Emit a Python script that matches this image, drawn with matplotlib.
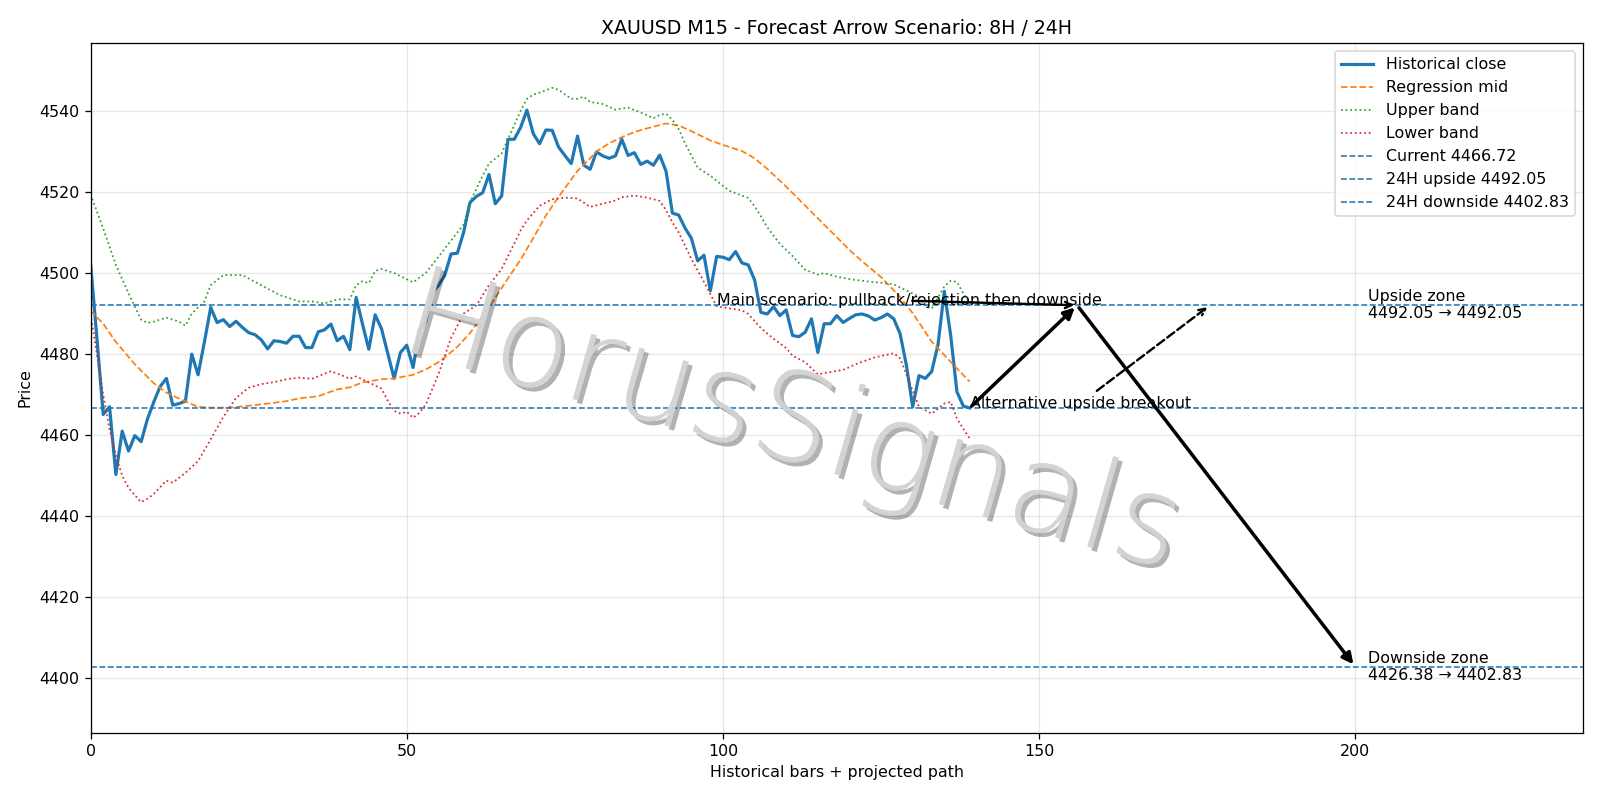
import numpy as np
import matplotlib
matplotlib.use("Agg")
import matplotlib.pyplot as plt
import matplotlib.patheffects as pe
from matplotlib import font_manager as fm

# historical closes, one per M15 bar (index 0..139)
close = [
    4502.4, 4484.0, 4465.1, 4467.0, 4450.3, 4461.0, 4456.1, 4459.9, 4458.4, 4464.0,
    4468.2, 4472.0, 4474.0, 4467.4, 4467.8, 4468.4, 4480.0, 4474.9, 4483.0, 4491.5,
    4487.8, 4488.5, 4486.8, 4488.1, 4486.6, 4485.3, 4484.8, 4483.5, 4481.3, 4483.3,
    4483.1, 4482.7, 4484.4, 4484.4, 4481.6, 4481.6, 4485.5, 4486.0, 4487.4, 4483.3,
    4484.4, 4481.1, 4494.0, 4487.4, 4481.2, 4489.7, 4486.3, 4480.1, 4474.0, 4480.4,
    4482.2, 4476.7, 4485.9, 4488.1, 4495.2, 4496.9, 4499.4, 4504.7, 4504.9, 4510.1,
    4517.4, 4518.9, 4519.8, 4524.3, 4517.1, 4519.0, 4533.0, 4533.0, 4535.9, 4540.2,
    4534.4, 4531.9, 4535.3, 4535.2, 4531.1, 4529.0, 4527.0, 4533.8, 4526.6, 4525.6,
    4529.9, 4528.9, 4528.3, 4528.9, 4533.0, 4529.0, 4529.7, 4526.8, 4527.6, 4526.6,
    4529.1, 4525.1, 4514.8, 4514.3, 4511.1, 4508.6, 4503.0, 4504.4, 4495.6, 4504.1,
    4503.9, 4503.3, 4505.3, 4502.5, 4502.0, 4498.3, 4490.3, 4489.9, 4491.7, 4489.5,
    4490.9, 4484.6, 4484.3, 4485.4, 4488.7, 4480.4, 4487.5, 4487.5, 4489.5, 4487.8,
    4488.8, 4489.7, 4489.9, 4489.4, 4488.4, 4489.0, 4489.9, 4488.7, 4485.1, 4477.3,
    4467.0, 4474.7, 4474.0, 4475.7, 4482.3, 4495.5, 4484.7, 4470.7, 4467.2, 4466.72,
]

# regression mid (bar index, price)
mid_x = [0, 2, 4, 7, 10, 12, 15, 17, 19, 22, 24, 27, 31, 33, 36, 39, 41, 43, 46, 48,
         51, 53, 55, 56, 58, 60, 62, 64, 66, 68, 70, 72, 74, 77, 79, 80, 82, 84, 86, 88,
         90, 91, 93, 95, 98, 100, 103, 105, 107, 110, 112, 115, 117, 120, 122, 125, 128,
         130, 133, 136, 139]
mid_y = [4490.7, 4487.5, 4483.0, 4477.5, 4472.8, 4470.5, 4468.3, 4467.0, 4466.8, 4466.8,
         4467.1, 4467.6, 4468.4, 4469.1, 4469.6, 4471.3, 4471.8, 4473.0, 4473.8, 4474.0,
         4474.9, 4476.2, 4478.0, 4479.2, 4481.8, 4485.2, 4489.4, 4493.9, 4498.7, 4503.3,
         4508.6, 4514.2, 4518.8, 4525.2, 4528.3, 4530.0, 4532.0, 4533.5, 4534.8, 4535.7,
         4536.5, 4536.9, 4536.4, 4535.0, 4532.7, 4531.6, 4530.1, 4528.3, 4525.7, 4521.3,
         4518.2, 4513.5, 4510.4, 4505.7, 4502.9, 4499.0, 4494.1, 4490.1, 4483.1, 4478.1,
         4473.2]

# upper band
up_x = [0, 2, 4, 6, 8, 9, 10, 12, 14, 15, 16, 18, 19, 21, 24, 27, 30, 33, 35, 37,
        39, 41, 42, 43, 44, 45, 46, 48, 51, 53, 55, 57, 59, 60, 62, 63, 65, 66, 67, 68,
        69, 70, 71, 73, 74, 76, 77, 78, 79, 81, 83, 85, 87, 89, 90, 91, 92, 93, 94, 96,
        98, 100, 101, 104, 105, 106, 107, 109, 111, 113, 115, 116, 118, 120, 123, 125,
        127, 129, 131, 132, 133, 135, 136, 137, 138, 139]
up_y = [4519.4, 4511.0, 4502.0, 4495.0, 4488.5, 4487.7, 4488.0, 4489.0, 4488.0, 4487.0,
        4490.0, 4493.0, 4497.0, 4499.5, 4499.5, 4497.0, 4494.5, 4493.0, 4493.0, 4492.5,
        4493.5, 4493.5, 4497.0, 4498.0, 4497.5, 4500.5, 4501.0, 4500.0, 4497.7, 4500.0,
        4504.0, 4508.0, 4512.0, 4517.5, 4524.0, 4527.0, 4529.5, 4533.0, 4536.5, 4540.0,
        4543.0, 4544.0, 4544.5, 4545.7, 4545.2, 4543.0, 4543.0, 4543.5, 4542.2, 4541.7,
        4540.3, 4540.8, 4539.6, 4538.2, 4539.0, 4539.3, 4537.8, 4535.5, 4532.0, 4526.0,
        4524.0, 4521.5, 4520.3, 4518.5, 4516.5, 4514.0, 4511.3, 4507.2, 4504.2, 4500.8,
        4499.6, 4500.0, 4499.1, 4498.5, 4497.9, 4497.6, 4497.2, 4495.7, 4494.2, 4491.8,
        4491.2, 4496.7, 4498.1, 4497.8, 4495.0, 4492.6]

# lower band
lo_x = [0, 1, 2, 3, 4, 5, 6, 7, 8, 9, 10, 11, 12, 13, 15, 17, 19, 21, 23, 25,
        27, 29, 31, 33, 35, 38, 40, 41, 42, 44, 46, 47, 48, 49, 50, 51, 52, 53, 55, 57,
        59, 61, 63, 65, 67, 68, 69, 71, 73, 75, 77, 79, 81, 83, 84, 86, 88, 90, 91, 92,
        93, 95, 97, 99, 101, 103, 104, 106, 108, 110, 111, 113, 115, 117, 119, 121, 122,
        124, 127, 128, 129, 131, 133, 135, 136, 137, 138, 139]
lo_y = [4489.9, 4480.0, 4470.0, 4461.5, 4455.0, 4450.0, 4447.0, 4445.2, 4443.5, 4444.3,
        4445.5, 4447.2, 4448.8, 4448.3, 4450.7, 4453.6, 4459.0, 4464.5, 4469.2, 4471.7,
        4472.6, 4473.1, 4473.8, 4474.2, 4473.9, 4475.8, 4474.6, 4473.9, 4474.5, 4473.0,
        4471.5, 4468.5, 4466.0, 4465.3, 4465.8, 4464.3, 4465.5, 4467.5, 4475.0, 4484.0,
        4490.0, 4492.0, 4497.0, 4501.0, 4507.3, 4510.5, 4513.0, 4516.6, 4518.2, 4518.6,
        4518.4, 4516.3, 4517.1, 4517.9, 4518.7, 4519.1, 4518.6, 4517.8, 4515.5, 4512.5,
        4510.0, 4503.5, 4497.8, 4491.8, 4491.3, 4490.8, 4489.9, 4486.4, 4483.8, 4481.5,
        4479.6, 4478.0, 4475.0, 4475.6, 4476.1, 4477.5, 4478.1, 4479.2, 4480.2, 4479.0,
        4475.0, 4467.0, 4465.3, 4467.8, 4468.2, 4464.1, 4461.6, 4459.2]

current = 4466.72
up_24h = 4492.05
down_24h = 4402.83
down_zone_from = 4426.38

# projected path: now -> 8H rejection high -> 24H downside
path_x = [139, 156, 200]
path_y = [current, up_24h, down_24h]
alt_x = 177  # alternative breakout target bar
x_end = 236  # 140 history bars + 96 bars (24H of M15)


def thin_font():
    # pick a light weight face for the watermark if one is installed
    for fam in ["DejaVu Sans", "Lato", "Roboto", "Noto Sans", "Inter"]:
        faces = [f for f in fm.fontManager.ttflist
                 if f.name == fam and f.style == "normal"
                 and isinstance(f.weight, int) and 200 <= f.weight <= 300]
        if faces:
            faces.sort(key=lambda f: f.weight)
            return fm.FontProperties(fname=faces[0].fname)
    return fm.FontProperties(family="DejaVu Sans", weight="light")


fig, ax = plt.subplots(figsize=(14, 7), dpi=1600 / 14)
fig.subplots_adjust(left=0.0566, right=0.9894, top=0.946, bottom=0.0841)

ax.plot(range(len(close)), close, color="C0", lw=2, label="Historical close")
ax.plot(mid_x, mid_y, "--", color="C1", lw=1.1, label="Regression mid")
ax.plot(up_x, up_y, ":", color="C2", lw=1.1, label="Upper band")
ax.plot(lo_x, lo_y, ":", color="C3", lw=1.1, label="Lower band")
ax.axhline(current, ls="--", color="C0", lw=1, label=f"Current {current:.2f}")
ax.axhline(up_24h, ls="--", color="C0", lw=1, label=f"24H upside {up_24h:.2f}")
ax.axhline(down_24h, ls="--", color="C0", lw=1, label=f"24H downside {down_24h:.2f}")

# watermark: light grey letters with a drop shadow, over the data
wm = thin_font()
wm.set_size(78)
ax.text(0.47, 0.445, "HorusSignals", transform=ax.transAxes, fontproperties=wm,
        color="lightgray", alpha=0.8, rotation=-16, ha="center", va="center",
        path_effects=[pe.withSimplePatchShadow(offset=(2.5, -2.5), shadow_rgbFace="black", alpha=0.3),
                      pe.Normal()])

# main scenario arrows
for i in range(len(path_x) - 1):
    ax.annotate("", xy=(path_x[i + 1], path_y[i + 1]), xytext=(path_x[i], path_y[i]),
                arrowprops=dict(arrowstyle="-|>", color="black", lw=2.2, mutation_scale=14))

ax.annotate("Main scenario: pullback/rejection then downside", xy=(path_x[1], path_y[1]),
            xytext=(99, up_24h), fontsize=10,
            arrowprops=dict(arrowstyle="->", color="black", lw=1.5))
ax.annotate("Alternative upside breakout", xy=(alt_x, up_24h),
            xytext=(139, current), fontsize=10,
            arrowprops=dict(arrowstyle="->", color="black", lw=1.5, linestyle="--"))

ax.text(202, up_24h, f"Upside zone\n{up_24h:.2f} \u2192 {up_24h:.2f}", va="center", fontsize=10)
ax.text(202, down_24h, f"Downside zone\n{down_zone_from:.2f} \u2192 {down_24h:.2f}", va="center", fontsize=10)

ax.set_xlim(0, x_end)
ax.set_ylim(4386.6, 4556.7)
ax.set_title("XAUUSD M15 - Forecast Arrow Scenario: 8H / 24H")
ax.set_xlabel("Historical bars + projected path")
ax.set_ylabel("Price")
ax.grid(True, alpha=0.3)
ax.legend(loc="upper right")

fig.savefig("out.png")
